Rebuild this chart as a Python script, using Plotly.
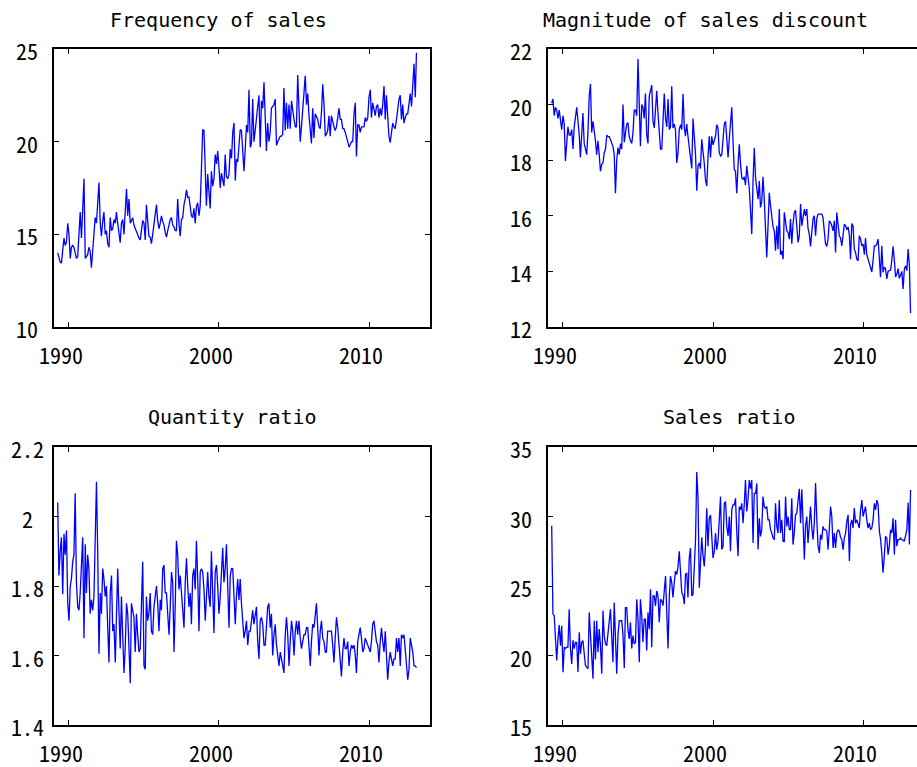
import pandas as pd
import plotly.graph_objects as go

# Monthly observations, April 1989 - March 2013
start_month = "1989-04-01"

freq_sales = [
    14.0, 13.7, 13.5, 13.45, 14.0, 14.8, 14.4, 14.6, 15.6, 15.0, 13.7, 14.3,
    14.4, 14.3, 14.0, 13.7, 13.8, 15.0, 16.2, 14.8, 16.5, 18.0, 13.7, 13.8,
    13.9, 14.3, 14.1, 13.2, 14.0, 15.2, 15.9, 15.6, 16.5, 17.8, 15.6, 14.9,
    15.7, 16.2, 15.0, 15.2, 14.5, 14.3, 15.9, 15.2, 15.3, 15.8, 15.6, 16.2,
    15.6, 15.2, 14.55, 15.6, 15.8, 15.0, 16.3, 17.45, 16.0, 16.9, 15.6, 15.8,
    15.9, 15.5, 15.3, 15.2, 15.0, 14.8, 14.7, 15.4, 15.75, 15.6, 14.7, 16.6,
    15.6, 14.9, 14.85, 14.5, 15.0, 15.65, 16.1, 16.6, 15.75, 15.3, 15.6, 16.0,
    15.7, 15.5, 15.1, 14.85, 15.2, 15.6, 15.8, 15.9, 15.5, 15.4, 15.2, 15.2,
    16.9, 15.6, 14.9, 15.8, 15.9, 16.6, 16.9, 17.4, 17.0, 17.0, 16.5, 16.0,
    15.9, 16.4, 15.6, 16.5, 16.7, 16.0, 16.55, 18.5, 20.66, 20.6, 18.0, 16.55,
    18.25, 17.3, 16.4, 18.4, 17.6, 18.0, 19.3, 18.8, 19.5, 18.6, 17.5, 18.3,
    17.9, 17.6, 19.3, 18.1, 18.0, 18.25, 19.6, 19.1, 20.5, 21.0, 17.9, 19.05,
    18.9, 19.8, 20.66, 20.6, 19.5, 18.4, 19.6, 20.9, 20.5, 22.8, 19.7, 19.9,
    22.3, 20.0, 20.6, 21.4, 21.9, 22.5, 19.7, 22.2, 21.8, 23.2, 21.0, 19.5,
    21.0, 20.0, 20.5, 21.8, 21.9, 22.0, 22.3, 19.8, 20.0, 20.2, 20.3, 20.3,
    20.4, 22.9, 20.6, 22.1, 20.7, 22.0, 20.7, 22.2, 21.6, 21.2, 20.8, 20.8,
    23.6, 21.5, 20.0, 20.8, 21.7, 22.4, 23.55, 22.0, 22.6, 21.4, 20.5, 19.9,
    21.8, 20.2, 21.5, 21.3, 21.2, 20.8, 20.7, 21.6, 23.1, 22.0, 20.3, 20.4,
    20.6, 21.4, 20.3, 21.4, 21.0, 20.8, 20.6, 20.8, 21.3, 21.8, 21.2, 21.2,
    20.7, 20.7, 20.5, 20.3, 20.0, 19.7, 19.9, 20.0, 20.0, 21.5, 22.1, 19.2,
    20.9, 20.9, 20.5, 20.8, 20.8, 20.8, 21.3, 21.1, 21.3, 22.4, 22.8, 21.3,
    22.1, 21.8, 21.4, 21.9, 22.0, 21.3, 21.8, 21.4, 22.0, 23.0, 21.2, 22.5,
    21.0, 20.3, 19.95, 20.4, 21.0, 20.8, 20.7, 21.2, 21.8, 22.3, 22.5, 21.2,
    22.0, 21.0, 21.3, 21.5, 21.5, 22.0, 22.6, 21.9, 22.8, 24.2, 22.4, 24.8,
]

discount_size = [
    20.05, 20.2, 19.6, 19.9, 19.8, 19.5, 19.8, 19.46, 19.1, 19.6, 19.3, 17.97,
    18.75, 19.2, 18.9, 18.9, 19.1, 18.4, 19.2, 19.6, 19.9, 19.4, 18.9, 18.1,
    19.0, 19.7, 18.6, 18.4, 18.2, 19.0, 20.3, 20.75, 19.0, 19.4, 19.1, 18.7,
    18.2, 18.7, 18.2, 17.6, 17.85, 17.9, 18.27, 18.4, 18.9, 18.85, 18.85, 18.72,
    18.62, 18.5, 18.2, 16.81, 18.0, 18.45, 18.2, 18.6, 18.4, 20.0, 18.65, 18.95,
    19.3, 19.35, 18.85, 18.7, 18.6, 19.0, 19.8, 19.8, 19.6, 21.64, 19.7, 18.5,
    20.0, 19.9, 19.5, 20.4, 18.9, 18.6, 20.3, 20.5, 20.7, 19.4, 19.16, 19.8,
    20.5, 19.7, 18.9, 18.4, 18.4, 19.6, 20.4, 19.5, 19.2, 20.2, 19.1, 19.2,
    20.66, 19.16, 19.3, 19.1, 17.9, 18.27, 19.1, 19.28, 19.1, 20.39, 19.2, 18.86,
    19.3, 18.86, 18.5, 18.03, 17.7, 19.5, 18.9, 18.2, 16.9, 17.8, 17.9, 17.7,
    18.75, 18.4, 17.9, 17.3, 17.07, 18.1, 18.86, 18.1, 18.86, 18.55, 18.7, 18.86,
    19.28, 19.16, 18.27, 18.15, 18.2, 18.8, 19.3, 19.4, 18.6, 18.1, 18.8, 19.2,
    19.9, 18.7, 17.67, 17.6, 16.81, 17.85, 18.57, 17.85, 17.37, 17.31, 17.4, 17.1,
    17.8, 17.4, 17.0, 16.2, 15.34, 17.25, 18.45, 17.37, 17.07, 16.6, 17.25, 16.3,
    16.5, 17.4, 16.6, 15.2, 14.5, 15.64, 16.83, 16.36, 15.88, 15.6, 15.46, 14.74,
    15.64, 14.8, 16.24, 14.6, 14.74, 14.44, 16.12, 15.82, 15.46, 15.4, 15.16, 15.88,
    15.0, 15.7, 16.12, 16.2, 15.4, 15.04, 15.28, 16.42, 15.64, 15.88, 16.24, 16.0,
    16.24, 15.55, 15.34, 14.9, 15.4, 15.9, 16.0, 15.28, 15.9, 16.06, 16.06, 16.06,
    16.06, 15.94, 15.4, 15.0, 14.9, 15.16, 15.82, 15.76, 15.64, 15.46, 15.82, 14.68,
    16.12, 15.76, 15.28, 15.2, 14.92, 15.3, 15.7, 15.64, 15.5, 15.6, 15.3, 14.44,
    15.72, 15.64, 14.8, 14.68, 14.44, 14.38, 15.28, 15.16, 14.92, 14.98, 14.6, 15.2,
    14.6, 14.45, 14.3, 14.1, 13.98, 14.4, 14.92, 14.92, 14.98, 15.16, 14.44, 13.79,
    14.92, 13.97, 14.15, 14.1, 13.73, 14.0, 14.03, 14.05, 14.4, 14.9, 14.4, 13.8,
    13.9, 14.1, 13.75, 13.9, 14.0, 13.37, 14.09, 14.2, 14.03, 14.8, 14.2, 12.5,
]

quantity_ratio = [
    2.04, 1.83, 1.90, 1.94, 1.776, 1.95, 1.89, 1.96, 1.75, 1.70, 1.80, 1.82,
    1.87, 1.89, 2.067, 1.81, 1.74, 1.73, 1.78, 1.86, 1.94, 1.65, 1.92, 1.78,
    1.89, 1.85, 1.72, 1.76, 1.73, 1.77, 1.95, 2.10, 1.90, 1.605, 1.78, 1.72,
    1.85, 1.82, 1.77, 1.80, 1.68, 1.58, 1.78, 1.83, 1.67, 1.69, 1.58, 1.70,
    1.85, 1.73, 1.62, 1.77, 1.68, 1.55, 1.62, 1.75, 1.72, 1.62, 1.52, 1.75,
    1.73, 1.71, 1.61, 1.72, 1.66, 1.61, 1.62, 1.73, 1.87, 1.57, 1.56, 1.77,
    1.70, 1.72, 1.78, 1.67, 1.66, 1.74, 1.77, 1.80, 1.75, 1.67, 1.76, 1.73,
    1.85, 1.86, 1.78, 1.78, 1.72, 1.66, 1.74, 1.84, 1.81, 1.61, 1.75, 1.93,
    1.89, 1.79, 1.83, 1.77, 1.74, 1.68, 1.81, 1.88, 1.80, 1.74, 1.78, 1.69,
    1.83, 1.85, 1.79, 1.93, 1.82, 1.67, 1.84, 1.85, 1.84, 1.79, 1.70, 1.77,
    1.84, 1.77, 1.74, 1.90, 1.74, 1.665, 1.84, 1.86, 1.80, 1.72, 1.77, 1.86,
    1.91, 1.81, 1.85, 1.92, 1.76, 1.68, 1.83, 1.85, 1.85, 1.78, 1.69, 1.77,
    1.82, 1.76, 1.82, 1.75, 1.70, 1.65, 1.67, 1.70, 1.63, 1.67, 1.67, 1.71,
    1.73, 1.69, 1.71, 1.74, 1.64, 1.59, 1.70, 1.71, 1.69, 1.63, 1.63, 1.69,
    1.74, 1.75, 1.68, 1.72, 1.60, 1.66, 1.69, 1.63, 1.60, 1.57, 1.61, 1.59,
    1.56, 1.55, 1.66, 1.71, 1.66, 1.57, 1.64, 1.70, 1.67, 1.60, 1.67, 1.70,
    1.66, 1.70, 1.65, 1.62, 1.64, 1.66, 1.66, 1.68, 1.68, 1.63, 1.57, 1.64,
    1.69, 1.68, 1.71, 1.75, 1.68, 1.60, 1.67, 1.70, 1.65, 1.64, 1.61, 1.61,
    1.67, 1.67, 1.67, 1.67, 1.63, 1.58, 1.65, 1.71, 1.68, 1.64, 1.59, 1.54,
    1.61, 1.65, 1.62, 1.62, 1.64, 1.57, 1.61, 1.63, 1.62, 1.63, 1.60, 1.55,
    1.64, 1.66, 1.68, 1.65, 1.61, 1.62, 1.65, 1.64, 1.63, 1.62, 1.61, 1.64,
    1.69, 1.70, 1.66, 1.64, 1.63, 1.58, 1.64, 1.68, 1.64, 1.61, 1.67, 1.58,
    1.53, 1.58, 1.61, 1.59, 1.57, 1.59, 1.59, 1.65, 1.61, 1.65, 1.57, 1.66,
    1.65, 1.66, 1.61, 1.57, 1.53, 1.56, 1.65, 1.63, 1.61, 1.57, 1.57, 1.565,
]

sales_ratio = [
    29.33, 23.0, 22.86, 21.4, 19.64, 21.2, 22.2, 20.7, 22.14, 18.8, 20.6, 20.5,
    20.6, 20.6, 23.33, 20.5, 19.4, 21.1, 20.5, 20.95, 20.95, 18.81, 21.67, 20.12,
    20.95, 21.07, 19.9, 19.29, 19.17, 19.05, 23.1, 21.19, 19.5, 18.33, 22.5, 19.71,
    22.5, 20.24, 21.9, 20.71, 18.69, 23.21, 21.4, 20.83, 20.71, 21.9, 22.5, 23.33,
    21.79, 19.52, 23.81, 21.07, 18.69, 21.5, 22.5, 22.5, 22.5, 21.43, 19.1, 23.45,
    23.45, 21.9, 21.19, 22.38, 20.5, 21.43, 20.83, 20.95, 24.05, 22.62, 19.52, 24.05,
    22.86, 20.95, 22.62, 22.62, 20.36, 23.1, 21.9, 24.76, 20.6, 24.29, 24.29, 23.57,
    24.64, 24.29, 22.4, 24.05, 23.93, 23.6, 24.9, 25.71, 23.1, 20.5, 24.29, 25.71,
    25.24, 24.17, 25.24, 26.07, 25.83, 26.43, 27.5, 26.19, 24.52, 24.33, 23.69, 25.83,
    25.95, 24.17, 27.0, 27.74, 24.29, 24.4, 25.95, 28.33, 33.2, 31.3, 24.88, 26.67,
    28.5, 27.26, 26.4, 27.8, 30.6, 27.86, 29.88, 30.1, 28.33, 27.02, 27.5, 28.81,
    27.62, 28.21, 29.76, 31.43, 27.62, 27.86, 30.95, 31.07, 29.29, 28.6, 30.0, 27.5,
    30.48, 30.83, 30.83, 31.31, 28.93, 27.14, 30.71, 30.48, 30.95, 29.52, 30.95, 32.62,
    30.36, 31.19, 32.62, 32.0, 32.62, 28.1, 31.67, 31.67, 32.38, 27.62, 29.88, 28.57,
    29.05, 31.43, 30.71, 30.6, 30.71, 29.76, 29.76, 29.05, 28.81, 28.45, 28.33, 30.95,
    29.29, 28.81, 31.19, 28.81, 29.76, 28.21, 28.2, 31.43, 29.29, 30.0, 29.05, 29.05,
    31.31, 27.98, 28.81, 30.12, 30.24, 31.5, 32.0, 29.52, 31.95, 29.52, 26.9, 29.29,
    30.0, 28.1, 29.76, 30.71, 29.17, 28.33, 29.52, 32.4, 29.76, 27.86, 27.38, 28.69,
    28.33, 29.29, 29.05, 29.05, 28.93, 27.62, 29.05, 30.71, 30.0, 27.74, 28.81, 27.74,
    28.81, 29.05, 28.93, 28.5, 28.33, 27.62, 28.45, 28.81, 29.64, 30.12, 26.8, 29.4,
    29.76, 29.17, 30.6, 29.52, 29.76, 29.4, 29.17, 30.48, 31.19, 30.0, 30.48, 30.71,
    29.76, 29.17, 29.52, 29.05, 29.17, 29.76, 30.95, 30.48, 31.19, 30.83, 28.93, 28.4,
    27.4, 25.95, 27.14, 28.57, 28.45, 27.26, 27.86, 29.05, 28.81, 29.88, 27.26, 29.76,
    27.86, 28.33, 28.33, 28.45, 28.33, 28.3, 28.21, 28.57, 29.05, 31.0, 27.98, 31.9,
]

titles = ["Frequency of sales", "Magnitude of sales discount",
          "Quantity ratio", "Sales ratio"]

year_ticks = ["1990-01-01", "2000-01-01", "2010-01-01"]
year_labels = ["1990", "2000", "2010"]

y_ticks = [
    [10, 15, 20, 25],
    [12, 14, 16, 18, 20, 22],
    [1.4, 1.6, 1.8, 2.0, 2.2],
    [15, 20, 25, 30, 35],
]
y_labels = [
    ["10", "15", "20", "25"],
    ["12", "14", "16", "18", "20", "22"],
    ["1.4", "1.6", "1.8", "2", "2.2"],
    ["15", "20", "25", "30", "35"],
]

months = pd.date_range(start_month, periods=len(freq_sales), freq="MS")
series = [freq_sales, discount_size, quantity_ratio, sales_ratio]

W, H = 917, 767
# panel frames in pixels: (left, top, right, bottom)
frames = [(54, 49, 430, 327), (548, 49, 917, 327),
          (54, 447, 430, 725), (548, 447, 917, 725)]
x_ranges = [["1989-01-01", "2014-01-25"], ["1989-01-01", "2013-08-05"],
            ["1989-01-01", "2014-01-25"], ["1989-01-01", "2013-08-05"]]
title_pos = [(218, 20), (705, 20), (232, 417), (729, 417)]

label_font = dict(family="Noto Sans Mono CJK JP, DejaVu Sans Mono",
                  size=22, color="black")
title_font = dict(family="DejaVu Sans Mono", size=20, color="black")

fig = go.Figure()
annotations = []
layout = dict(
    width=W, height=H, autosize=False,
    margin=dict(l=0, r=0, t=0, b=0, pad=0, autoexpand=False),
    paper_bgcolor="white", plot_bgcolor="white",
    showlegend=False,
)

for i, (vals, frame) in enumerate(zip(series, frames)):
    k = "" if i == 0 else str(i + 1)
    xa, ya = "x" + k, "y" + k
    left, top, right, bottom = frame
    fig.add_trace(go.Scatter(
        x=months, y=vals, mode="lines",
        line=dict(color="#0000ff", width=1.3),
        xaxis=xa, yaxis=ya, hoverinfo="skip",
    ))
    right_edge = right >= W
    layout["xaxis" + k] = dict(
        domain=[left / W, right / W], anchor=ya, type="date",
        range=x_ranges[i], tickmode="array", tickvals=year_ticks,
        showticklabels=False, ticks="inside", ticklen=5, tickwidth=1,
        tickcolor="black", showline=True, linecolor="black", linewidth=1.5,
        mirror="ticks", showgrid=False, zeroline=False, automargin=False,
    )
    layout["yaxis" + k] = dict(
        domain=[1 - bottom / H, 1 - top / H], anchor=xa,
        range=[y_ticks[i][0], y_ticks[i][-1]], tickmode="array",
        tickvals=y_ticks[i], showticklabels=False, ticks="inside",
        ticklen=5, tickwidth=1, tickcolor="black", showline=True,
        linecolor="black", linewidth=1.5,
        mirror=False if right_edge else "ticks",
        showgrid=False, zeroline=False, automargin=False,
    )
    # year labels under the frame
    for tv, tt in zip(year_ticks, year_labels):
        annotations.append(dict(
            text=tt, xref=xa, yref=ya + " domain", x=tv, y=0,
            xanchor="center", yanchor="middle", xshift=-8, yshift=-27,
            showarrow=False, font=label_font,
        ))
    # value labels left of the frame
    for tv, tt in zip(y_ticks[i], y_labels[i]):
        annotations.append(dict(
            text=tt, xref=xa + " domain", yref=ya, x=0, y=tv,
            xanchor="center", yanchor="middle", xshift=-27, yshift=-1,
            showarrow=False, font=label_font,
        ))
    tx, ty = title_pos[i]
    annotations.append(dict(
        text=titles[i], xref="paper", yref="paper", x=tx / W, y=1 - ty / H,
        xanchor="center", yanchor="middle", showarrow=False, font=title_font,
    ))

layout["annotations"] = annotations
fig.update_layout(**layout)
fig.write_html("out.html")
